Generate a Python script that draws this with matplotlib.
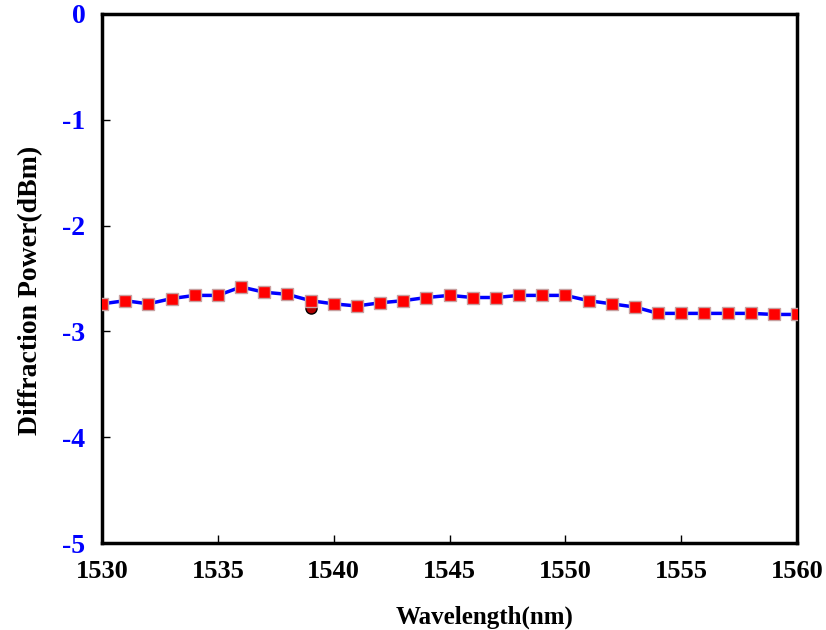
import numpy as np
import matplotlib.pyplot as plt

# wavelength sweep (nm) and measured diffraction power (dBm)
wavelength = list(range(1530, 1561))
power = [-2.74, -2.71, -2.74, -2.69, -2.66, -2.66, -2.58, -2.63, -2.65, -2.71,
         -2.74, -2.76, -2.73, -2.71, -2.68, -2.66, -2.68, -2.68, -2.66, -2.66,
         -2.66, -2.71, -2.74, -2.77, -2.83, -2.83, -2.83, -2.83, -2.83, -2.84,
         -2.84]
# second run, mostly hidden under the first
power_run2 = [-2.74, -2.71, -2.74, -2.69, -2.66, -2.66, -2.58, -2.63, -2.65, -2.78,
              -2.74, -2.76, -2.73, -2.71, -2.68, -2.66, -2.68, -2.68, -2.66, -2.66,
              -2.66, -2.71, -2.74, -2.77, -2.83, -2.83, -2.83, -2.83, -2.83, -2.84,
              -2.84]

x_ticks = [1530, 1535, 1540, 1545, 1550, 1555, 1560]
y_ticks = [0, -1, -2, -3, -4, -5]

plt.rcParams['font.family'] = ['Liberation Serif', 'DejaVu Serif']
plt.rcParams['font.weight'] = 'bold'

fig = plt.figure(figsize=(8.26, 6.30), dpi=100)
ax = fig.add_axes([0.1235, 0.138, 0.8415, 0.840])

ax.plot(wavelength, power_run2, 'o', color='#b00000', markeredgecolor='black',
        markersize=8, markeredgewidth=1, zorder=2)
ax.plot(wavelength, power, '-', color='blue', linewidth=2.5, zorder=3)
ax.plot(wavelength, power, 's', color='red', markeredgecolor='#c8a0a0',
        markersize=9, markeredgewidth=1, zorder=4)

ax.set_xlim(1530, 1560)
ax.set_ylim(-5, 0)
ax.set_xticks(x_ticks)
ax.set_yticks(y_ticks)
ax.set_xticklabels([str(t) for t in x_ticks], fontsize=19, fontweight='bold')
ax.set_yticklabels([str(t) for t in y_ticks], fontsize=20, fontweight='bold', color='blue')

ax.tick_params(axis='both', direction='in', length=6, width=1, top=False, right=False)
ax.tick_params(axis='x', pad=12)
ax.tick_params(axis='y', pad=12)

for s in ax.spines.values():
    s.set_linewidth(2.5)
    s.set_color('black')

ax.set_xlabel('Wavelength(nm)', fontsize=18, fontweight='bold')
ax.set_ylabel('Diffraction Power(dBm)', fontsize=20, fontweight='bold')
ax.xaxis.set_label_coords(0.55, -0.118)
ax.yaxis.set_label_coords(-0.085, 0.477)

fig.savefig('out.png', dpi=100, facecolor='white')
